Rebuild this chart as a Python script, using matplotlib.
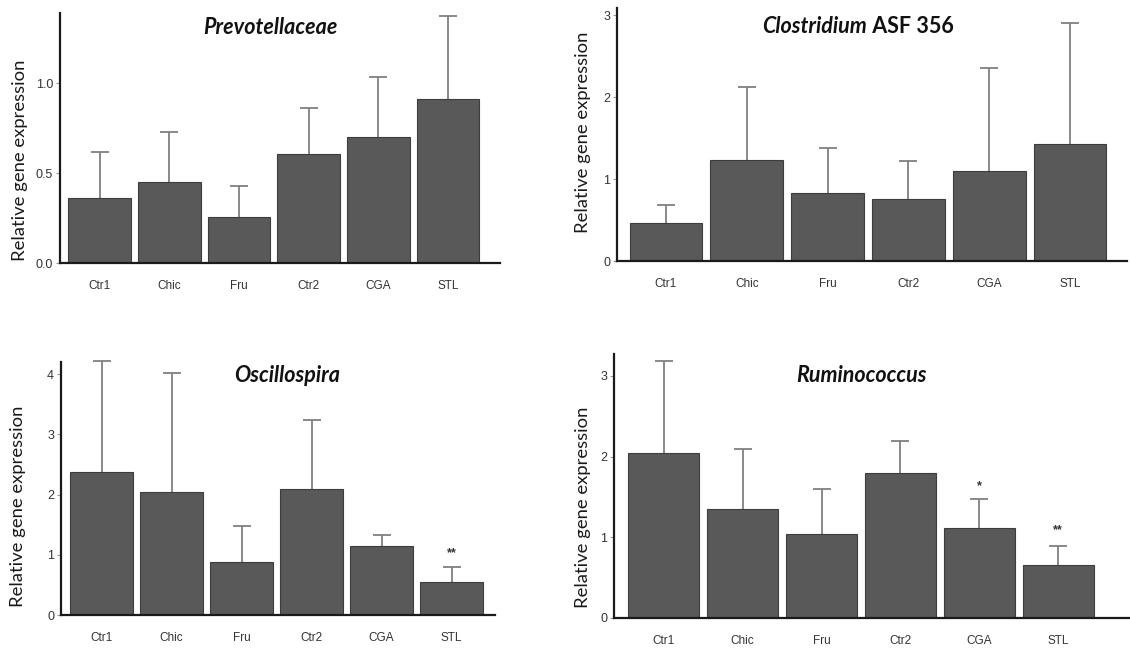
import matplotlib.pyplot as plt
import numpy as np

# -------------------------------
# data
# -------------------------------
groups = ["Ctr1", "Chic", "Fru", "Ctr2", "CGA", "STL"]

prev_mean = [0.363, 0.452, 0.254, 0.606, 0.700, 0.911]
prev_sd = [0.255, 0.274, 0.176, 0.255, 0.335, 0.463]

clos_mean = [0.468, 1.23, 0.826, 0.757, 1.10, 1.425]
clos_sd = [0.21, 0.89, 0.55, 0.46, 1.26, 1.48]

osci_mean = [2.37, 2.04, 0.875, 2.10, 1.14, 0.553]
osci_sd = [1.85, 1.97, 0.60, 1.14, 0.19, 0.25]
osci_sig = ["", "", "", "", "", "**"]

rumi_mean = [2.04, 1.35, 1.046, 1.80, 1.11, 0.66]
rumi_sd = [1.14, 0.74, 0.55, 0.39, 0.36, 0.23]
rumi_sig = ["", "", "", "", "*", "**"]

W, H = 1130, 650
BAR = "#595959"
EDGE = "#3d3d3d"
ERR = "#808080"
LABEL_FONT = ["Lato", "DejaVu Sans"]
TICK_FONT = ["Liberation Sans", "DejaVu Sans"]

fig = plt.figure(figsize=(W / 100, H / 100), dpi=100)


def panel(left, right, top, bottom, mean, sd, ymax, xlim, yticks, ylabels, lab_x, lab_y):
    ax = fig.add_axes([left / W, (H - bottom) / H, (right - left) / W, (bottom - top) / H])
    x = np.arange(len(groups))
    mean = np.array(mean)
    upper = mean + np.array(sd)
    ax.bar(x, mean, width=0.9, color=BAR, edgecolor=EDGE, linewidth=0.8, zorder=2)
    # upper-only error bars: stem from bar top, cap at the top
    ax.vlines(x, mean, upper, color=ERR, linewidth=1.3, zorder=1, clip_on=False)
    ax.plot(x, upper, ls="none", marker="_", markersize=13, markeredgewidth=1.3,
            color=ERR, zorder=1, clip_on=False)
    ax.set_xlim(*xlim)
    ax.set_ylim(0, ymax)
    ax.set_xticks(x)
    ax.set_xticklabels(groups, family=TICK_FONT, fontsize=8.5, color="#333333")
    ax.set_yticks(yticks)
    ax.set_yticklabels(ylabels, family=TICK_FONT, fontsize=9, color="#333333")
    ax.tick_params(axis="x", length=0, pad=12)
    ax.tick_params(axis="y", length=3, width=0.8, color="#999999", pad=2)
    for s in ["top", "right"]:
        ax.spines[s].set_visible(False)
    for s in ["left", "bottom"]:
        ax.spines[s].set_linewidth(1.6)
        ax.spines[s].set_color("#1a1a1a")
        ax.spines[s].set_zorder(3)
    ax.text(lab_x, lab_y, "Relative gene expression", transform=ax.transAxes, rotation=90,
            ha="center", va="center", family=LABEL_FONT, fontsize=13.3, color="#1a1a1a")
    return ax


def sig_marks(ax, marks, ys):
    for i, m in enumerate(marks):
        if m:
            ax.text(i, ys[i], m, ha="center", va="center", fontsize=9, fontweight="bold",
                    color="#333333", family=TICK_FONT)


TITLE = dict(family=LABEL_FONT, fontsize=15.5, fontweight="bold", color="#111111")

# 1. Prevotellaceae
ax1 = panel(60, 500, 13, 263, prev_mean, prev_sd, 1.39, (-0.567, 5.746),
            [0, 0.5, 1.0], ["0.0", "0.5", "1.0"], -0.092, 0.41)
ax1.text(0.477, 0.94, "Prevotellaceae", transform=ax1.transAxes, ha="center", va="center",
         style="italic", **TITLE)

# 2. Clostridium ASF 356
ax2 = panel(617, 1127, 8, 261, clos_mean, clos_sd, 3.09, (-0.606, 5.705),
            [0, 1, 2, 3], ["0", "1", "2", "3"], -0.067, 0.51)
t = ax2.text(0.49, 0.925, "Clostridium", transform=ax2.transAxes, ha="right", va="center",
             style="italic", **TITLE)
ax2.annotate(" ASF 356", xy=(1, 0), xycoords=t, ha="left", va="bottom", **TITLE)

# 3. Oscillospira
ax3 = panel(61, 495, 362, 615, osci_mean, osci_sd, 4.2, (-0.58, 5.62),
            [0, 1, 2, 3, 4], ["0", "1", "2", "3", "4"], -0.099, 0.43)
ax3.text(0.52, 0.946, "Oscillospira", transform=ax3.transAxes, ha="center", va="center",
         style="italic", **TITLE)
sig_marks(ax3, osci_sig, [0, 0, 0, 0, 0, 1.02])

# 4. Ruminococcus
ax4 = panel(614, 1130, 354, 618, rumi_mean, rumi_sd, 3.27, (-0.63, 5.91),
            [0, 1, 2, 3], ["0", "1", "2", "3"], -0.06, 0.42)
ax4.text(0.48, 0.918, "Ruminococcus", transform=ax4.transAxes, ha="center", va="center",
         style="italic", **TITLE)
sig_marks(ax4, rumi_sig, [0, 0, 0, 0, 1.63, 1.09])

plt.savefig("out.png", dpi=100)
